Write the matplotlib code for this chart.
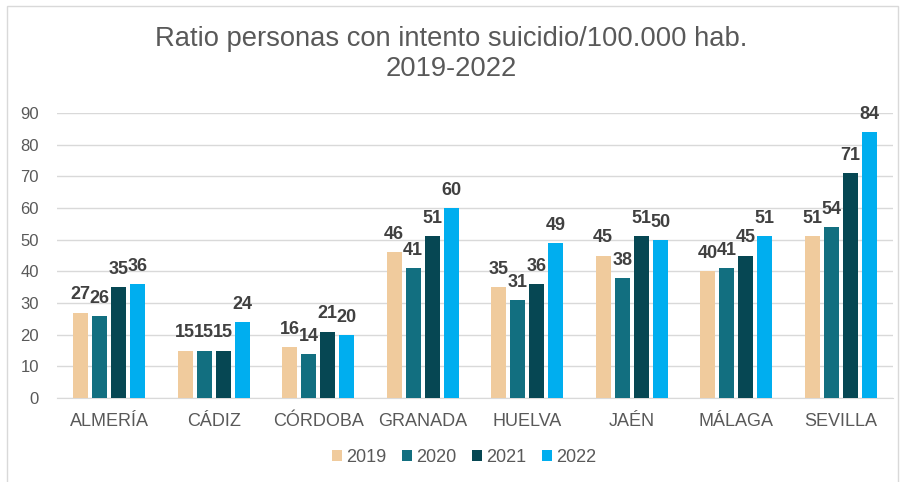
import numpy as np
import matplotlib
matplotlib.use("Agg")
from matplotlib import pyplot as plt
from matplotlib.patches import Rectangle

plt.rcParams['font.family'] = ['Liberation Sans', 'DejaVu Sans']

provincias = ["ALMERÍA", "CÁDIZ", "CÓRDOBA", "GRANADA", "HUELVA", "JAÉN", "MÁLAGA", "SEVILLA"]
years = ["2019", "2020", "2021", "2022"]
v2019 = [27, 15, 16, 46, 35, 45, 40, 51]
v2020 = [26, 15, 14, 41, 31, 38, 41, 54]
v2021 = [35, 15, 21, 51, 36, 51, 45, 71]
v2022 = [36, 24, 20, 60, 49, 50, 51, 84]
series = [v2019, v2020, v2021, v2022]
colors = ["#F0CB9D", "#126F80", "#064753", "#00AEEF"]

W, H = 902, 482
fig = plt.figure(figsize=(W / 100, H / 100), dpi=100)
# light chart border (bottom edge runs off the image)
fig.patches.append(Rectangle((7 / W, -0.02), 891 / W, 1.02 - 6 / H, transform=fig.transFigure,
                             fill=False, edgecolor="#D9D9D9", linewidth=1))
ax = fig.add_axes([57 / W, 1 - 398 / H, 836 / W, 285 / H])

x = np.arange(len(provincias))
w = 0.143
step = 0.182
for i, (vals, c) in enumerate(zip(series, colors)):
    pos = x + (i - 1.5) * step
    ax.bar(pos, vals, width=w, color=c, label=years[i], zorder=3)
    for p, v in zip(pos, vals):
        ax.annotate(str(v), (p, v), xytext=(0, 6.5), textcoords="offset points",
                    ha="center", va="bottom", fontsize=13, fontweight="bold",
                    color="#404040", zorder=4)

ax.set_ylim(0, 90)
ax.set_yticks(range(0, 91, 10))
ax.set_xlim(-0.5, len(provincias) - 0.5)
ax.set_xticks(x)
ax.set_xticklabels(provincias)
ax.grid(axis="y", color="#D9D9D9", linewidth=1, zorder=0)
for s in ["top", "right", "left"]:
    ax.spines[s].set_visible(False)
ax.spines["bottom"].set_color("#D9D9D9")
ax.tick_params(axis="both", length=0, colors="#595959")
ax.tick_params(axis="x", pad=11, labelsize=13)
ax.tick_params(axis="y", pad=13, labelsize=12)

fig.text(0.5, 1 - 46 / H, "Ratio personas con intento suicidio/100.000 hab.",
         ha="center", va="baseline", fontsize=19.7, color="#595959")
fig.text(0.5, 1 - 76 / H, "2019-2022",
         ha="center", va="baseline", fontsize=19.7, color="#595959")

fig.legend(loc="center", bbox_to_anchor=(464 / W, 1 - 457 / H), ncol=4, frameon=False,
           fontsize=13, handlelength=0.55, handleheight=0.55, handletextpad=0.2,
           columnspacing=0.9, labelcolor="#595959", borderpad=0)

fig.savefig("out.png", dpi=100)
